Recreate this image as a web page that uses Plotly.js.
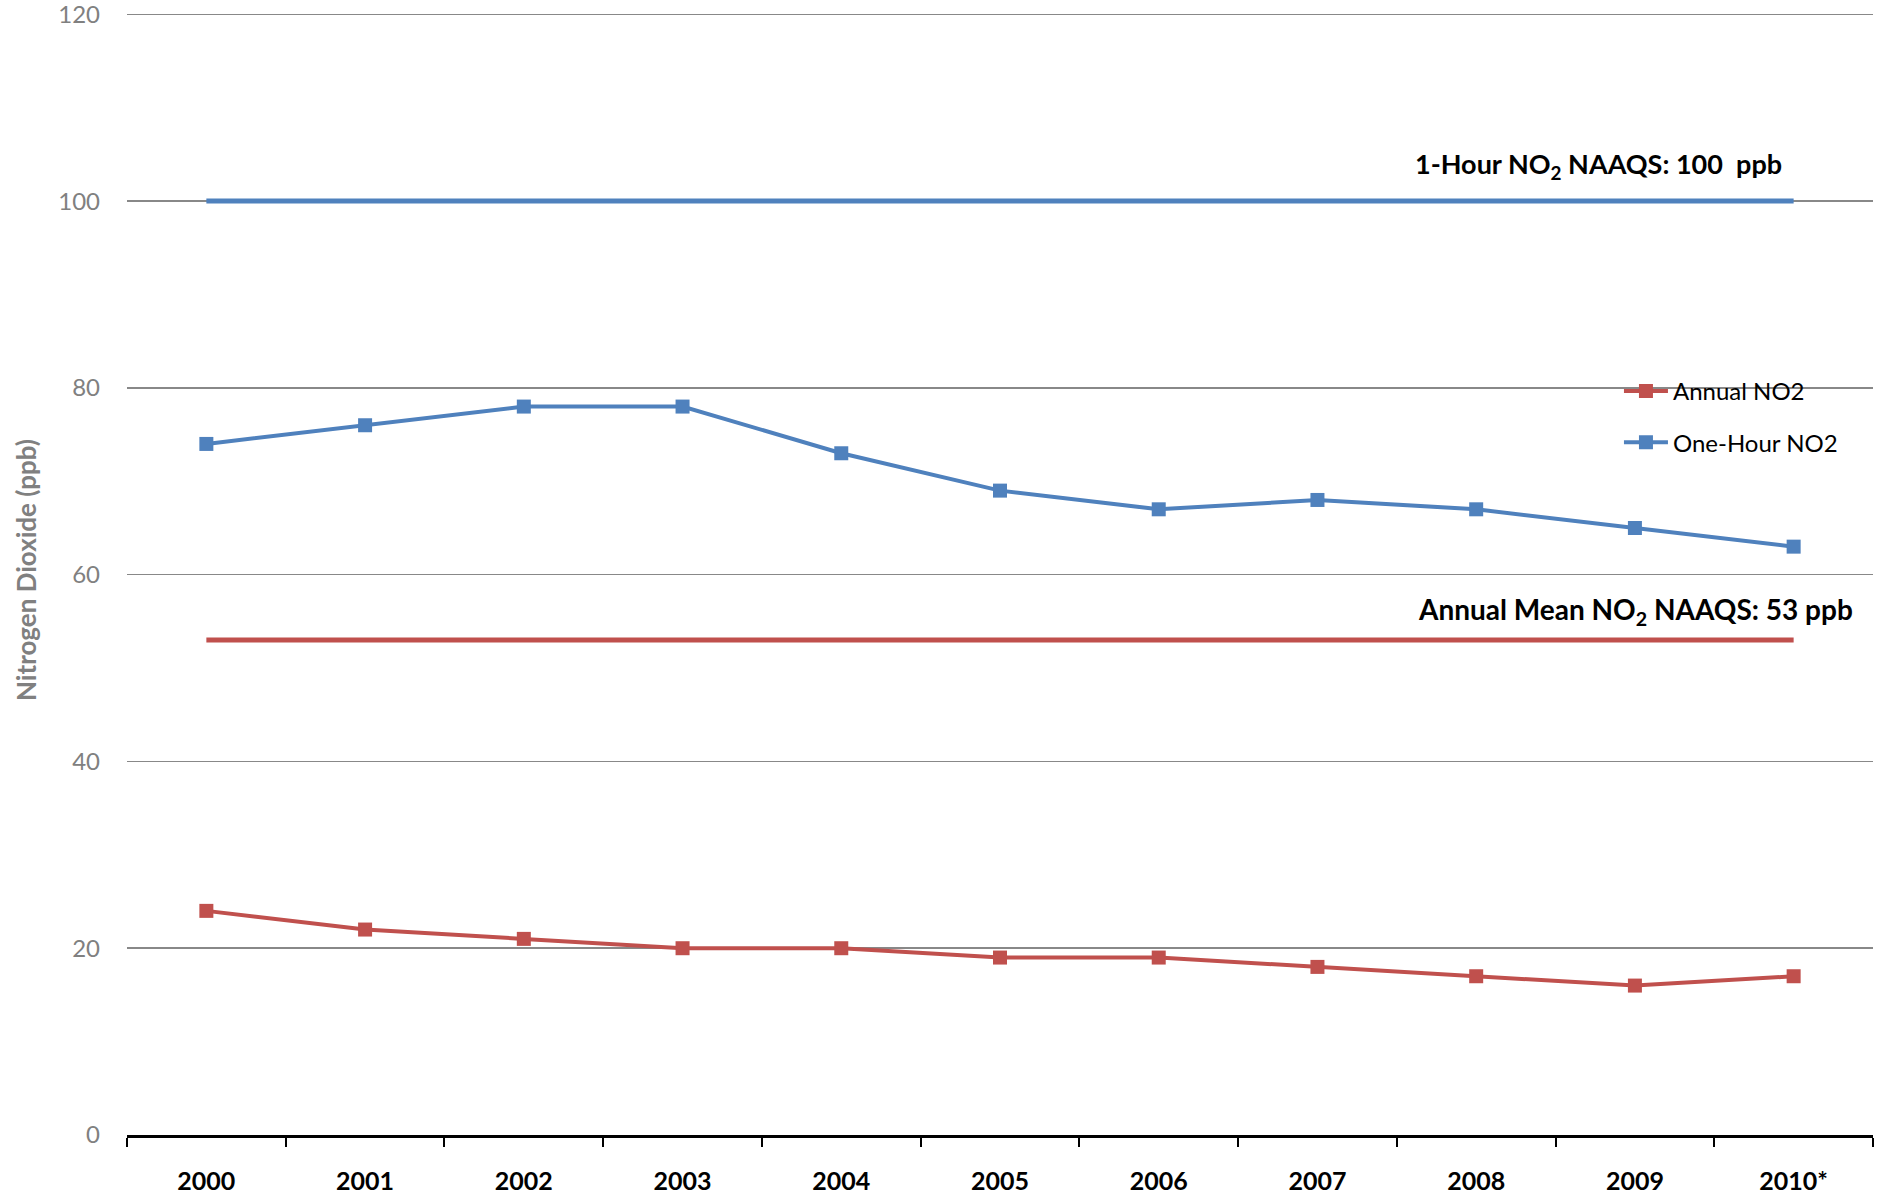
<!DOCTYPE html>
<html>
<head>
<meta charset="utf-8">
<script src="https://cdn.plot.ly/plotly-3.0.1.min.js"></script>
<style>html,body{margin:0;padding:0;background:#fff;}#chart{width:1885px;height:1196px;}</style>
</head>
<body>
<div id="chart"></div>
<script>
const years = ["2000","2001","2002","2003","2004","2005","2006","2007","2008","2009","2010*"];
const annualNO2 = [24,22,21,20,20,19,19,18,17,16,17];
const oneHourNO2 = [74,76,78,78,73,69,67,68,67,65,63];
const oneHourStandard = [100,100,100,100,100,100,100,100,100,100,100];
const annualStandard = [53,53,53,53,53,53,53,53,53,53,53];
const yTicks = [0,20,40,60,80,100,120];

const BLUE = "#4F81BD", RED = "#C0504D";
const FONT = "Lato, 'Liberation Sans', Arial, sans-serif";

const traces = [
  {x: years, y: oneHourStandard, type: "scatter", mode: "lines", line: {color: BLUE, width: 5}, showlegend: false, hoverinfo: "skip"},
  {x: years, y: annualStandard, type: "scatter", mode: "lines", line: {color: RED, width: 5}, showlegend: false, hoverinfo: "skip"},
  {x: years, y: annualNO2, name: "Annual NO2", type: "scatter", mode: "lines+markers", legendgroup: "a",
   line: {color: RED, width: 4}, marker: {symbol: "square", size: 14, color: RED}},
  {x: years, y: oneHourNO2, name: "One-Hour NO2", type: "scatter", mode: "lines+markers", legendgroup: "b",
   line: {color: BLUE, width: 4}, marker: {symbol: "square", size: 14, color: BLUE}}
];

const layout = {
  width: 1885, height: 1196,
  margin: {l: 127, r: 12, t: 5, b: 61},
  paper_bgcolor: "#fff", plot_bgcolor: "#fff",
  font: {family: FONT},
  showlegend: true,
  legend: {x: 0.8545, xanchor: "left", y: 0.678, yanchor: "top", bgcolor: "rgba(0,0,0,0)", itemwidth: 44,
    font: {size: 24, color: "#000", family: FONT}, traceorder: "grouped", tracegroupgap: 17},
  xaxis: {type: "category", range: [-0.5, 10.5], tickson: "boundaries", ticks: "outside", ticklen: 9, tickwidth: 2, tickcolor: "#000",
    showline: true, linecolor: "#000", linewidth: 3, showgrid: false, zeroline: false,
    tickfont: {size: 25, color: "#000", family: FONT, weight: "bold"}, ticklabelstandoff: 22, fixedrange: true},
  yaxis: {range: [0,121], tickvals: yTicks, ticktext: yTicks.map(String), showgrid: true, gridcolor: "#888888", gridwidth: 1.5,
    zeroline: false, showline: false, ticks: "", ticklabelstandoff: 26, ticklabeloverflow: "allow",
    tickfont: {size: 24, color: "#808080", family: FONT},
    title: {text: "Nitrogen Dioxide (ppb)", standoff: 14, font: {size: 26, color: "#808080", family: FONT, weight: "bold"}}},
  annotations: [
    {xref: "paper", yref: "y", x: 0.843, y: 100, yshift: 36, xanchor: "center", yanchor: "middle", showarrow: false,
     text: "1-Hour NO<sub>2</sub> NAAQS: 100  ppb", font: {size: 27, color: "#000", family: FONT, weight: "bold"}},
    {xref: "paper", yref: "y", x: 0.864, y: 53, yshift: 29, xanchor: "center", yanchor: "middle", showarrow: false,
     text: "Annual Mean NO<sub>2</sub> NAAQS: 53 ppb", font: {size: 28, color: "#000", family: FONT, weight: "bold"}}
  ]
};

Plotly.newPlot("chart", traces, layout, {displayModeBar: false, staticPlot: true});
</script>
</body>
</html>
